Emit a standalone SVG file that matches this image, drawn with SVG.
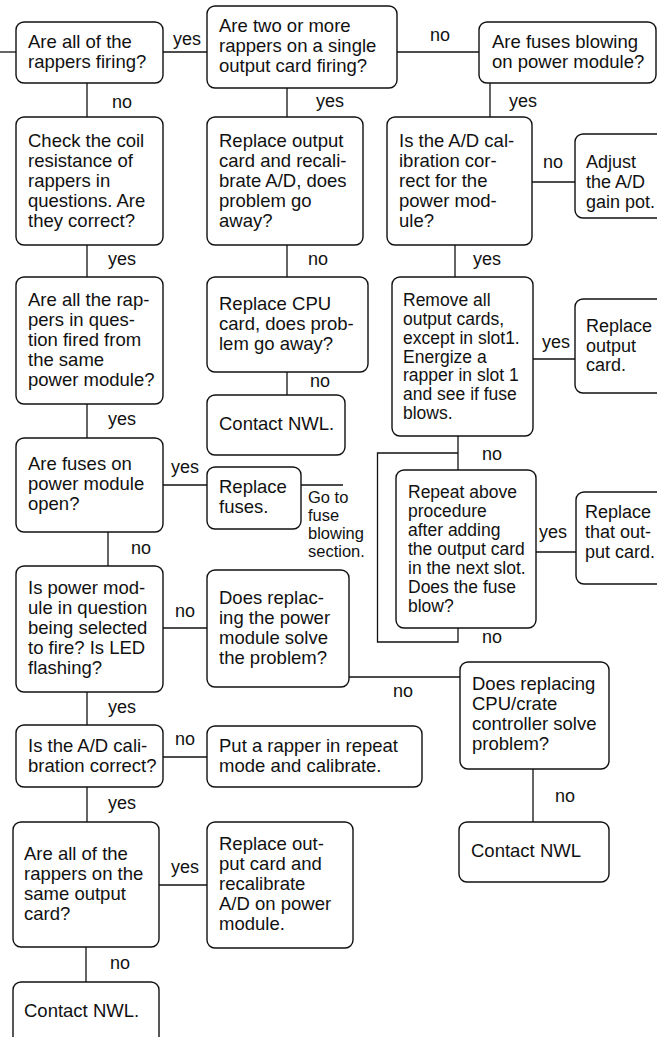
<svg xmlns="http://www.w3.org/2000/svg" width="657" height="1037" viewBox="0 0 657 1037">
<style>
.box{fill:#fff;stroke:#111;stroke-width:1.4}
.t{font-family:"Liberation Sans",Arial,sans-serif;font-size:18.5px;fill:#111}
.r{font-family:"Liberation Sans",Arial,sans-serif;font-size:18px;fill:#111}
.s{font-family:"Liberation Sans",Arial,sans-serif;font-size:17.5px;fill:#111}
.n{font-family:"Liberation Sans",Arial,sans-serif;font-size:16.5px;fill:#111}
.lbl{font-family:"Liberation Sans",Arial,sans-serif;font-size:18px;fill:#111}
.c line,.c polyline{stroke:#111;stroke-width:1.3;fill:none}
</style>
<rect width="657" height="1037" fill="#fff"/>
<g class="c" id="connectors">
<line x1="0" y1="52" x2="16" y2="52"/>
<line x1="163" y1="52" x2="207" y2="52"/>
<line x1="397" y1="52" x2="479" y2="52"/>
<line x1="87" y1="83" x2="87" y2="117"/>
<line x1="287" y1="88" x2="287" y2="117"/>
<line x1="490" y1="83" x2="490" y2="117"/>
<line x1="532" y1="182" x2="575" y2="182"/>
<line x1="87" y1="245" x2="87" y2="277"/>
<line x1="287" y1="245" x2="287" y2="277"/>
<line x1="455" y1="245" x2="455" y2="277"/>
<line x1="533" y1="359" x2="575" y2="359"/>
<line x1="287" y1="372" x2="287" y2="395"/>
<line x1="87" y1="404" x2="87" y2="438"/>
<line x1="163" y1="485" x2="207" y2="485"/>
<line x1="301" y1="485" x2="343" y2="485"/>
<line x1="458" y1="436" x2="458" y2="470"/>
<polyline points="458,453 377.5,453 377.5,642 458,642 458,628"/>
<line x1="536" y1="552" x2="576" y2="552"/>
<line x1="108" y1="532" x2="108" y2="566"/>
<line x1="163" y1="628" x2="207" y2="628"/>
<line x1="349" y1="677" x2="460" y2="677"/>
<line x1="87" y1="692" x2="87" y2="725"/>
<line x1="163" y1="757" x2="207" y2="757"/>
<line x1="533" y1="769" x2="533" y2="822"/>
<line x1="87" y1="787" x2="87" y2="822"/>
<line x1="159" y1="885" x2="207" y2="885"/>
<line x1="86" y1="947" x2="86" y2="982"/>
<g id="labels">
<text x="173" y="45" class="lbl">yes</text>
<text x="112" y="107.5" class="lbl">no</text>
<text x="430" y="41" class="lbl">no</text>
<text x="316" y="107" class="lbl">yes</text>
<text x="509" y="107" class="lbl">yes</text>
<text x="543" y="168" class="lbl">no</text>
<text x="108" y="265" class="lbl">yes</text>
<text x="308" y="265" class="lbl">no</text>
<text x="473" y="265" class="lbl">yes</text>
<text x="542" y="348" class="lbl">yes</text>
<text x="310" y="387" class="lbl">no</text>
<text x="108" y="425" class="lbl">yes</text>
<text x="482" y="460" class="lbl">no</text>
<text x="171" y="473" class="lbl">yes</text>
<text x="539" y="538" class="lbl">yes</text>
<text x="131" y="554" class="lbl">no</text>
<text x="175" y="617" class="lbl">no</text>
<text x="482" y="643" class="lbl">no</text>
<text x="393" y="697" class="lbl">no</text>
<text x="108" y="713" class="lbl">yes</text>
<text x="175" y="745" class="lbl">no</text>
<text x="555" y="802" class="lbl">no</text>
<text x="108" y="809" class="lbl">yes</text>
<text x="171" y="873" class="lbl">yes</text>
<text x="110" y="969" class="lbl">no</text>
</g>
</g>
<g id="n1"><rect class="box" x="16" y="22" width="147" height="61" rx="8"/><text class="t"><tspan x="28" y="48">Are all of the</tspan><tspan x="28" y="68">rappers firing?</tspan></text></g>
<g id="n2"><rect class="box" x="16" y="117" width="147" height="128" rx="8"/><text class="t"><tspan x="28" y="147">Check the coil</tspan><tspan x="28" y="167">resistance of</tspan><tspan x="28" y="187">rappers in</tspan><tspan x="28" y="207">questions. Are</tspan><tspan x="28" y="227">they correct?</tspan></text></g>
<g id="n3"><rect class="box" x="207" y="6" width="190" height="82" rx="8"/><text class="t"><tspan x="219" y="32">Are two or more</tspan><tspan x="219" y="52">rappers on a single</tspan><tspan x="219" y="72">output card firing?</tspan></text></g>
<g id="n4"><rect class="box" x="207" y="117" width="156" height="128" rx="8"/><text class="t"><tspan x="219" y="147">Replace output</tspan><tspan x="219" y="167">card and recali-</tspan><tspan x="219" y="187">brate A/D, does</tspan><tspan x="219" y="207">problem go</tspan><tspan x="219" y="227">away?</tspan></text></g>
<g id="n6"><rect class="box" x="479" y="22" width="177" height="61" rx="8"/><text class="t"><tspan x="492" y="48">Are fuses blowing</tspan><tspan x="492" y="68">on power module?</tspan></text></g>
<g id="n7"><rect class="box" x="387" y="117" width="145" height="128" rx="8"/><text class="t"><tspan x="399" y="147">Is the A/D cal-</tspan><tspan x="399" y="167">ibration cor-</tspan><tspan x="399" y="187">rect for the</tspan><tspan x="399" y="207">power mod-</tspan><tspan x="399" y="227">ule?</tspan></text></g>
<g id="n8"><rect class="box" x="575" y="134" width="95" height="84" rx="8"/><text class="r"><tspan x="586" y="168">Adjust</tspan><tspan x="586" y="188">the A/D</tspan><tspan x="586" y="208">gain pot.</tspan></text></g>
<g id="n9"><rect class="box" x="16" y="277" width="147" height="127" rx="8"/><text class="t"><tspan x="28" y="306">Are all the rap-</tspan><tspan x="28" y="326">pers in ques-</tspan><tspan x="28" y="346">tion fired from</tspan><tspan x="28" y="366">the same</tspan><tspan x="28" y="386">power module?</tspan></text></g>
<g id="n10"><rect class="box" x="16" y="438" width="147" height="94" rx="8"/><text class="t"><tspan x="28" y="470">Are fuses on</tspan><tspan x="28" y="490">power module</tspan><tspan x="28" y="510">open?</tspan></text></g>
<g id="n11"><rect class="box" x="207" y="277" width="161" height="95" rx="8"/><text class="t"><tspan x="219" y="310">Replace CPU</tspan><tspan x="219" y="330">card, does prob-</tspan><tspan x="219" y="350">lem go away?</tspan></text></g>
<g id="n12"><rect class="box" x="207" y="395" width="138" height="60" rx="8"/><text class="t" x="219" y="430">Contact NWL.</text></g>
<g id="n13"><rect class="box" x="207" y="467" width="94" height="62" rx="8"/><text class="t"><tspan x="219" y="493">Replace</tspan><tspan x="219" y="513">fuses.</tspan></text></g>
<g id="note"><text class="n"><tspan x="308" y="503">Go to</tspan><tspan x="308" y="521">fuse</tspan><tspan x="308" y="539">blowing</tspan><tspan x="308" y="557">section.</tspan></text></g>
<g id="n14"><rect class="box" x="392" y="277" width="141" height="159" rx="8"/><text class="s"><tspan x="403" y="306">Remove all</tspan><tspan x="403" y="325">output cards,</tspan><tspan x="403" y="344">except in slot1.</tspan><tspan x="403" y="363">Energize a</tspan><tspan x="403" y="381">rapper in slot 1</tspan><tspan x="403" y="400">and see if fuse</tspan><tspan x="403" y="419">blows.</tspan></text></g>
<g id="n15"><rect class="box" x="396" y="470" width="140" height="158" rx="8"/><text class="s"><tspan x="408" y="498">Repeat above</tspan><tspan x="408" y="517">procedure</tspan><tspan x="408" y="536">after adding</tspan><tspan x="408" y="555">the output card</tspan><tspan x="408" y="574">in the next slot.</tspan><tspan x="408" y="593">Does the fuse</tspan><tspan x="408" y="612">blow?</tspan></text></g>
<g id="n16"><rect class="box" x="575" y="299" width="95" height="94" rx="8"/><text class="r"><tspan x="586" y="332">Replace</tspan><tspan x="586" y="352">output</tspan><tspan x="586" y="371">card.</tspan></text></g>
<g id="n17"><rect class="box" x="576" y="492" width="95" height="92" rx="8"/><text class="r"><tspan x="585" y="518">Replace</tspan><tspan x="585" y="538">that out-</tspan><tspan x="585" y="558">put card.</tspan></text></g>
<g id="n18"><rect class="box" x="460" y="662" width="149" height="107" rx="8"/><text class="t"><tspan x="472" y="690">Does replacing</tspan><tspan x="472" y="710">CPU/crate</tspan><tspan x="472" y="730">controller solve</tspan><tspan x="472" y="750">problem?</tspan></text></g>
<g id="n19"><rect class="box" x="16" y="566" width="147" height="126" rx="8"/><text class="t"><tspan x="28" y="594">Is power mod-</tspan><tspan x="28" y="614">ule in question</tspan><tspan x="28" y="634">being selected</tspan><tspan x="28" y="654">to fire? Is LED</tspan><tspan x="28" y="674">flashing?</tspan></text></g>
<g id="n20"><rect class="box" x="16" y="725" width="147" height="62" rx="8"/><text class="t"><tspan x="28" y="752">Is the A/D cali-</tspan><tspan x="28" y="772">bration correct?</tspan></text></g>
<g id="n21"><rect class="box" x="207" y="570" width="142" height="117" rx="8"/><text class="t"><tspan x="219" y="604">Does replac-</tspan><tspan x="219" y="624">ing the power</tspan><tspan x="219" y="644">module solve</tspan><tspan x="219" y="664">the problem?</tspan></text></g>
<g id="n22"><rect class="box" x="207" y="726" width="215" height="61" rx="8"/><text class="t"><tspan x="219" y="752">Put a rapper in repeat</tspan><tspan x="219" y="772">mode and calibrate.</tspan></text></g>
<g id="n23"><rect class="box" x="459" y="822" width="150" height="60" rx="8"/><text class="t" x="471" y="857">Contact NWL</text></g>
<g id="n24"><rect class="box" x="13" y="822" width="146" height="125" rx="8"/><text class="t"><tspan x="24" y="860">Are all of the</tspan><tspan x="24" y="880">rappers on the</tspan><tspan x="24" y="900">same output</tspan><tspan x="24" y="920">card?</tspan></text></g>
<g id="n25"><rect class="box" x="13" y="982" width="146" height="70" rx="8"/><text class="t" x="24" y="1017">Contact NWL.</text></g>
<g id="n26"><rect class="box" x="207" y="822" width="146" height="126" rx="8"/><text class="t"><tspan x="219" y="850">Replace out-</tspan><tspan x="219" y="870">put card and</tspan><tspan x="219" y="890">recalibrate</tspan><tspan x="219" y="910">A/D on power</tspan><tspan x="219" y="930">module.</tspan></text></g>
</svg>
